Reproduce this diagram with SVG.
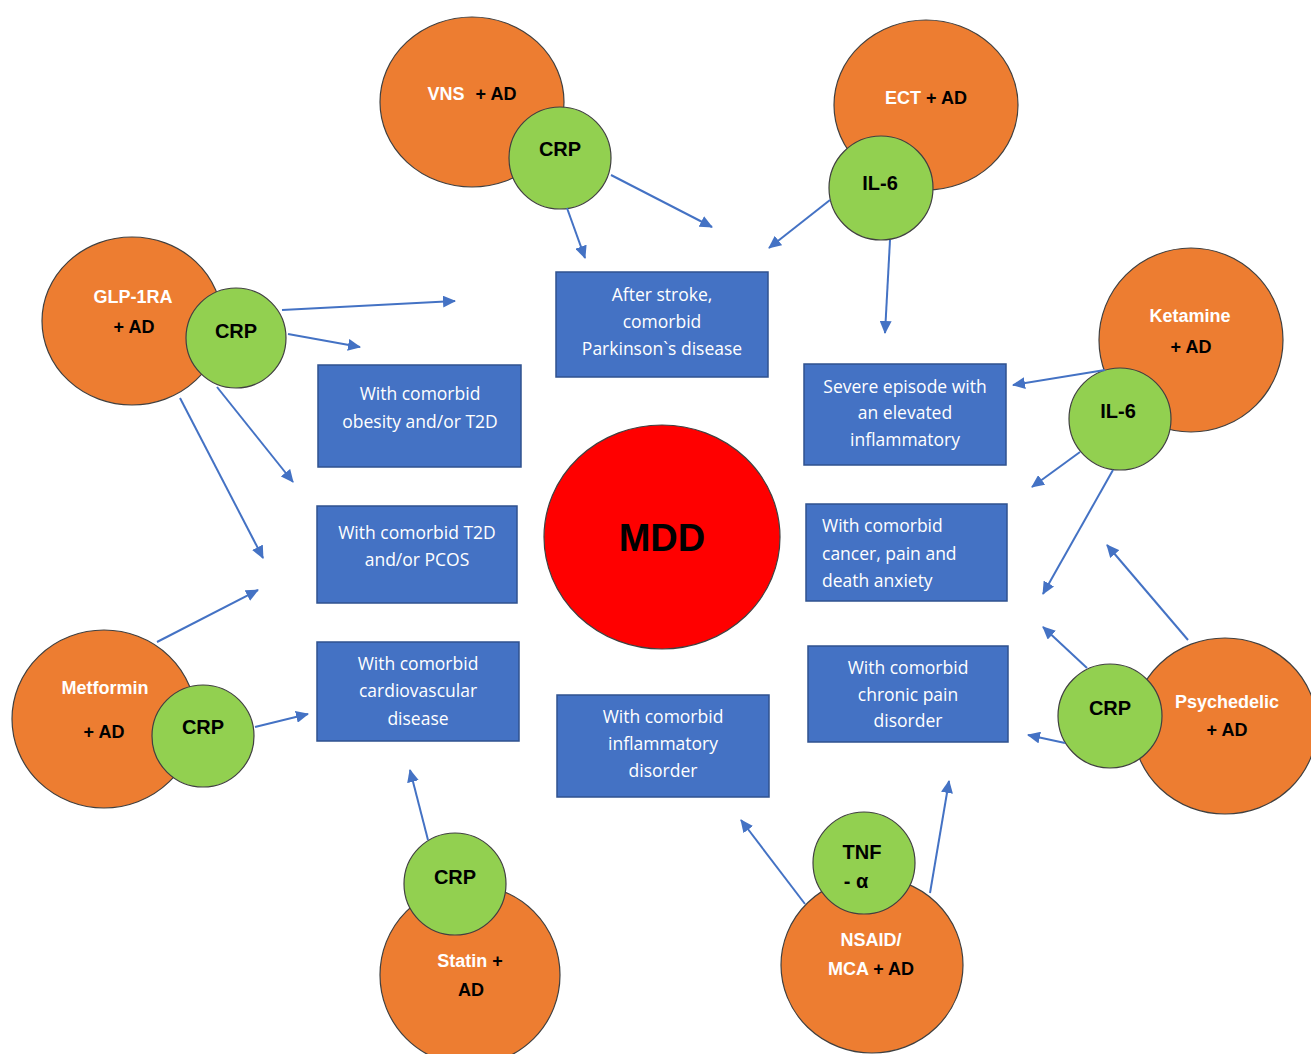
<svg xmlns="http://www.w3.org/2000/svg" width="1311" height="1054" viewBox="0 0 1311 1054">
<style>
.org{fill:#ED7D31;stroke:#404040;stroke-width:1.2}
.grn{fill:#92D050;stroke:#404040;stroke-width:1.2}
.box{fill:#4472C4;stroke:#2F528F;stroke-width:1.5}
.bt{font-family:"Open Sans","Liberation Sans",sans-serif;font-size:17.5px;fill:#fff;text-anchor:middle}
.bl{font-family:"Open Sans","Liberation Sans",sans-serif;font-size:17.5px;fill:#fff;text-anchor:start}
.ct{font-family:"Liberation Sans",Arial,sans-serif;font-weight:bold;font-size:18px;text-anchor:middle}
.w{fill:#fff}
.k{fill:#000}
.gl{font-family:"Liberation Sans",Arial,sans-serif;font-weight:bold;font-size:20px;fill:#000;text-anchor:middle}
.cn line{stroke:#4472C4;stroke-width:2;marker-end:url(#ah)}
</style>
<defs>
<marker id="ah" markerUnits="userSpaceOnUse" markerWidth="14" markerHeight="12" refX="12" refY="6" orient="auto">
<path d="M0,0 L13,6 L0,12 z" fill="#4472C4"/>
</marker>
</defs>
<rect width="1311" height="1054" fill="#fff"/>

<g id="mdd">
<ellipse cx="662" cy="537" rx="118" ry="112" fill="#FF0000" stroke="#404040" stroke-width="1.2"/>
<text x="662" y="541" font-family="Liberation Sans,Arial,sans-serif" font-weight="bold" font-size="38" text-anchor="middle" dominant-baseline="middle">MDD</text>
</g>

<g id="box-stroke">
<rect class="box" x="556" y="272" width="212" height="105"/>
<text class="bt" x="662" y="301">After stroke,</text>
<text class="bt" x="662" y="328">comorbid</text>
<text class="bt" x="662" y="355">Parkinson`s disease</text>
</g>
<g id="box-obesity">
<rect class="box" x="318" y="365" width="203" height="102"/>
<text class="bt" x="420" y="400">With comorbid</text>
<text class="bt" x="420" y="428">obesity and/or T2D</text>
</g>
<g id="box-pcos">
<rect class="box" x="317" y="506" width="200" height="97"/>
<text class="bt" x="417" y="539">With comorbid T2D</text>
<text class="bt" x="417" y="566">and/or PCOS</text>
</g>
<g id="box-cardio">
<rect class="box" x="317" y="642" width="202" height="99"/>
<text class="bt" x="418" y="670">With comorbid</text>
<text class="bt" x="418" y="697">cardiovascular</text>
<text class="bt" x="418" y="725">disease</text>
</g>
<g id="box-inflam">
<rect class="box" x="557" y="695" width="212" height="102"/>
<text class="bt" x="663" y="723">With comorbid</text>
<text class="bt" x="663" y="750">inflammatory</text>
<text class="bt" x="663" y="777">disorder</text>
</g>
<g id="box-severe">
<rect class="box" x="804" y="364" width="202" height="101"/>
<text class="bt" x="905" y="393">Severe episode with</text>
<text class="bt" x="905" y="419">an elevated</text>
<text class="bt" x="905" y="446">inflammatory</text>
</g>
<g id="box-cancer">
<rect class="box" x="806" y="504" width="201" height="97"/>
<text class="bl" x="822" y="532">With comorbid</text>
<text class="bl" x="822" y="560">cancer, pain and</text>
<text class="bl" x="822" y="587">death anxiety</text>
</g>
<g id="box-chronic">
<rect class="box" x="808" y="646" width="200" height="96"/>
<text class="bt" x="908" y="674">With comorbid</text>
<text class="bt" x="908" y="701">chronic pain</text>
<text class="bt" x="908" y="727">disorder</text>
</g>

<g id="vns">
<ellipse class="org" cx="472" cy="102" rx="92" ry="85"/>
<text class="ct" x="472" y="100"><tspan class="w">VNS</tspan><tspan class="k" dx="6"> + AD</tspan></text>
</g>
<g id="vns-crp">
<circle class="grn" cx="560" cy="158" r="51"/>
<text class="gl" x="560" y="156">CRP</text>
</g>

<g id="ect">
<ellipse class="org" cx="926" cy="105" rx="92" ry="85"/>
<text class="ct" x="926" y="104"><tspan class="w">ECT</tspan><tspan class="k"> + AD</tspan></text>
</g>
<g id="ect-il6">
<circle class="grn" cx="881" cy="188" r="52"/>
<text class="gl" x="880" y="190">IL-6</text>
</g>

<g id="glp">
<ellipse class="org" cx="132" cy="321" rx="90" ry="84"/>
<text class="ct w" x="133" y="303">GLP-1RA</text>
<text class="ct k" x="134" y="333">+ AD</text>
</g>
<g id="glp-crp">
<circle class="grn" cx="236" cy="338" r="50"/>
<text class="gl" x="236" y="338">CRP</text>
</g>

<g id="ketamine">
<circle class="org" cx="1191" cy="340" r="92"/>
<text class="ct w" x="1190" y="322">Ketamine</text>
<text class="ct k" x="1191" y="353">+ AD</text>
</g>
<g id="ketamine-il6">
<circle class="grn" cx="1120" cy="419" r="51"/>
<text class="gl" x="1118" y="418">IL-6</text>
</g>

<g id="metformin">
<ellipse class="org" cx="104" cy="719" rx="92" ry="89"/>
<text class="ct w" x="105" y="694">Metformin</text>
<text class="ct k" x="104" y="738">+ AD</text>
</g>
<g id="metformin-crp">
<circle class="grn" cx="203" cy="736" r="51"/>
<text class="gl" x="203" y="734">CRP</text>
</g>

<g id="statin">
<ellipse class="org" cx="470" cy="975" rx="90" ry="90"/>
<text class="ct" x="470" y="967"><tspan class="w">Statin</tspan><tspan class="k"> +</tspan></text>
<text class="ct k" x="471" y="996">AD</text>
</g>
<g id="statin-crp">
<circle class="grn" cx="455" cy="884" r="51"/>
<text class="gl" x="455" y="884">CRP</text>
</g>

<g id="nsaid">
<ellipse class="org" cx="872" cy="965" rx="91" ry="88"/>
<text class="ct w" x="871" y="946">NSAID/</text>
<text class="ct" x="871" y="975"><tspan class="w">MCA</tspan><tspan class="k"> + AD</tspan></text>
</g>
<g id="nsaid-tnf">
<circle class="grn" cx="864" cy="863" r="51"/>
<text class="gl" x="862" y="859">TNF</text>
<text class="gl" x="856" y="888">- α</text>
</g>

<g id="psychedelic">
<ellipse class="org" cx="1225" cy="726" rx="92" ry="88"/>
<text class="ct w" x="1227" y="708">Psychedelic</text>
<text class="ct k" x="1227" y="736">+ AD</text>
</g>
<g id="psychedelic-crp">
<circle class="grn" cx="1110" cy="716" r="52"/>
<text class="gl" x="1110" y="715">CRP</text>
</g>

<g id="connectors" class="cn">
<line x1="567" y1="208" x2="585" y2="258"/>
<line x1="611" y1="175" x2="712" y2="227"/>
<line x1="830" y1="200" x2="769" y2="248"/>
<line x1="890" y1="240" x2="885" y2="333"/>
<line x1="282" y1="310" x2="455" y2="301"/>
<line x1="288" y1="334" x2="360" y2="347"/>
<line x1="217" y1="387" x2="293" y2="482"/>
<line x1="180" y1="398" x2="263" y2="558"/>
<line x1="157" y1="642" x2="258" y2="590"/>
<line x1="255" y1="727" x2="308" y2="714"/>
<line x1="428" y1="840" x2="410" y2="770"/>
<line x1="805" y1="904" x2="741" y2="820"/>
<line x1="930" y1="893" x2="949" y2="781"/>
<line x1="1188" y1="640" x2="1107" y2="545"/>
<line x1="1087" y1="668" x2="1043" y2="627"/>
<line x1="1065" y1="743" x2="1028" y2="735"/>
<line x1="1105" y1="370" x2="1013" y2="385"/>
<line x1="1080" y1="452" x2="1032" y2="487"/>
<line x1="1113" y1="470" x2="1043" y2="594"/>
</g>
</svg>
